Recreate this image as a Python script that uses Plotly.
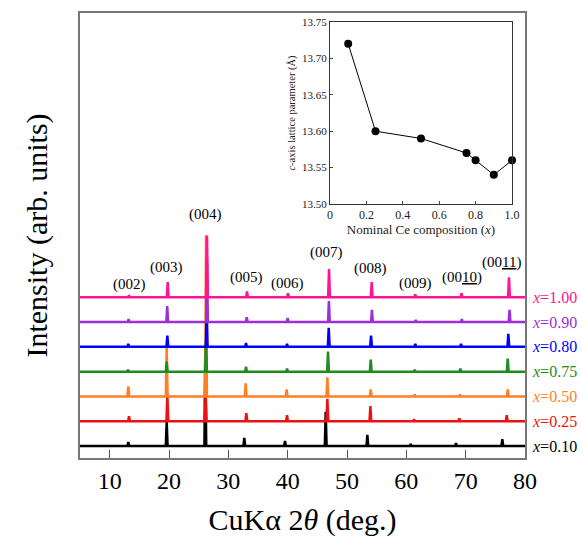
import plotly.graph_objects as go

# ---------------- data ----------------
compositions = ["1.00", "0.90", "0.80", "0.75", "0.50", "0.25", "0.10"]
colors = ["#ff1493", "#9b30d9", "#0000ff", "#1e8c1e", "#ff7f27", "#ee1111", "#000000"]
offsets = [6, 5, 4, 3, 2, 1, 0]

# peak positions (2theta, deg) for (002)...(0011)
peaks_100 = [13.26, 19.78, 26.40, 33.15, 40.06, 46.97, 54.16, 61.50, 69.30, 77.30]
peaks_090 = [13.20, 19.70, 26.40, 33.10, 40.00, 46.95, 54.20, 61.60, 69.35, 77.40]
peaks_080 = [13.14, 19.72, 26.35, 32.98, 39.89, 46.92, 54.05, 61.51, 69.22, 77.19]
peaks_075 = [13.09, 19.61, 26.24, 32.98, 39.89, 46.80, 54.00, 61.41, 69.10, 77.09]
peaks_050 = [13.14, 19.61, 26.24, 32.92, 39.83, 46.69, 54.00, 61.41, 69.05, 77.09]
peaks_025 = [13.26, 19.72, 26.18, 33.03, 39.89, 46.69, 53.94, 61.30, 68.93, 76.92]
peaks_010 = [13.14, 19.61, 26.12, 32.69, 39.55, 46.41, 53.43, 60.74, 68.37, 76.18]

# peak heights (arb. units, relative to baseline)
heights_100 = [0.08, 0.61, 2.48, 0.24, 0.16, 1.14, 0.61, 0.12, 0.16, 0.81]
heights_090 = [0.12, 0.65, 2.60, 0.20, 0.16, 0.85, 0.49, 0.08, 0.12, 0.49]
heights_080 = [0.12, 0.45, 1.60, 0.16, 0.12, 0.77, 0.45, 0.12, 0.12, 0.53]
heights_075 = [0.08, 0.41, 1.20, 0.20, 0.12, 0.81, 0.49, 0.08, 0.12, 0.53]
heights_050 = [0.41, 1.95, 6.50, 0.53, 0.28, 0.77, 0.28, 0.08, 0.08, 0.28]
heights_025 = [0.20, 1.10, 1.10, 0.33, 0.24, 0.90, 0.61, 0.08, 0.12, 0.24]
heights_010 = [0.16, 0.98, 4.00, 0.33, 0.20, 1.38, 0.45, 0.08, 0.12, 0.28]

peak_labels = ["(002)", "(003)", "(004)", "(005)", "(006)", "(007)", "(008)", "(009)",
               "(00<u>10</u>)", "(00<u>11</u>)"]

# inset: c-axis lattice parameter vs nominal Ce composition
ce_x = [0.10, 0.25, 0.50, 0.75, 0.80, 0.90, 1.00]
c_axis = [13.72, 13.60, 13.59, 13.57, 13.56, 13.54, 13.56]

all_peaks = [peaks_100, peaks_090, peaks_080, peaks_075, peaks_050, peaks_025, peaks_010]
all_heights = [heights_100, heights_090, heights_080, heights_075, heights_050, heights_025, heights_010]

# ---------------- layout positions ----------------
label_x = [13.3, 19.6, 26.2, 33.0, 40.0, 46.6, 54.0, 61.6, 69.3, 76.0]
label_y = [6.5, 7.2, 9.36, 6.79, 6.54, 7.79, 7.18, 6.54, 6.78, 7.4]
HALF_W = 0.15
SERIF = "Liberation Serif"

fig = go.Figure()

# draw from bottom (x=0.10) to top (x=1.00)
for i in reversed(range(len(compositions))):
    xs = [5.0]
    ys = [offsets[i]]
    for p, h in zip(all_peaks[i], all_heights[i]):
        xs += [p - HALF_W, p, p + HALF_W]
        ys += [offsets[i], offsets[i] + h, offsets[i]]
    xs.append(80.0)
    ys.append(offsets[i])
    fig.add_trace(go.Scatter(x=xs, y=ys, mode="lines",
                             line=dict(color=colors[i], width=2.5),
                             showlegend=False, xaxis="x", yaxis="y"))

# inset
fig.add_trace(go.Scatter(x=ce_x, y=c_axis, mode="lines+markers",
                         line=dict(color="black", width=1),
                         marker=dict(color="black", size=8),
                         cliponaxis=False,
                         showlegend=False, xaxis="x2", yaxis="y2"))

annotations = []
for lx, ly, t in zip(label_x, label_y, peak_labels):
    annotations.append(dict(x=lx, y=ly, xref="x", yref="y", text=t, showarrow=False,
                            font=dict(family=SERIF, size=15, color="black")))
for comp, col, off in zip(compositions, colors, offsets):
    annotations.append(dict(x=1.012, y=off, xref="paper", yref="y", xanchor="left",
                            text="<i>x</i>=" + comp, showarrow=False,
                            font=dict(family=SERIF, size=16, color=col)))

fig.update_layout(
    width=582, height=545,
    margin=dict(l=80, r=57, t=13, b=87),
    paper_bgcolor="white", plot_bgcolor="white",
    font=dict(family=SERIF, color="black"),
    annotations=annotations,
    xaxis=dict(range=[5, 80], tickvals=[10, 20, 30, 40, 50, 60, 70, 80],
               ticks="inside", ticklen=8, tickcolor="#555", tickwidth=1,
               showline=True, linecolor="#777", linewidth=1.5, mirror=True,
               showgrid=False, zeroline=False, automargin=False,
               tickfont=dict(family=SERIF, size=24, color="black"),
               title=dict(text="CuKα 2<i>θ</i> (deg.)", standoff=16,
                          font=dict(family=SERIF, size=30, color="black"))),
    yaxis=dict(range=[-0.484, 17.47], showticklabels=False, ticks="",
               showline=True, linecolor="#777", linewidth=1.5, mirror=True,
               showgrid=False, zeroline=False, automargin=False,
               title=dict(text="Intensity (arb. units)", standoff=22,
                          font=dict(family=SERIF, size=30, color="black"))),
    xaxis2=dict(domain=[0.5618, 0.9708], anchor="y2", range=[0, 1.0],
                tickvals=[0, 0.2, 0.4, 0.6, 0.8, 1.0],
                ticktext=["0", "0.2", "0.4", "0.6", "0.8", "1.0"],
                ticks="inside", ticklen=3, showline=True, linecolor="#333",
                linewidth=1, mirror=True, showgrid=False, zeroline=False,
                automargin=False,
                tickfont=dict(family=SERIF, size=12, color="#222"),
                title=dict(text="Nominal Ce composition (<i>x</i>)", standoff=1,
                           font=dict(family=SERIF, size=13, color="#222"))),
    yaxis2=dict(domain=[0.5708, 0.9798], anchor="x2", range=[13.50, 13.75],
                tickvals=[13.50, 13.55, 13.60, 13.65, 13.70, 13.75],
                ticktext=["13.50", "13.55", "13.60", "13.65", "13.70", "13.75"],
                ticks="inside", ticklen=3, showline=True, linecolor="#333",
                linewidth=1, mirror=True, showgrid=False, zeroline=False,
                automargin=False,
                tickfont=dict(family=SERIF, size=11, color="#222"),
                title=dict(text="<i>c</i>-axis lattice parameter (Å)", standoff=4,
                           font=dict(family=SERIF, size=10.5, color="#222"))),
)

fig.write_html("out.html", config={"displayModeBar": False},
               post_script="document.body.style.margin='0px';document.body.style.overflow='hidden';")
